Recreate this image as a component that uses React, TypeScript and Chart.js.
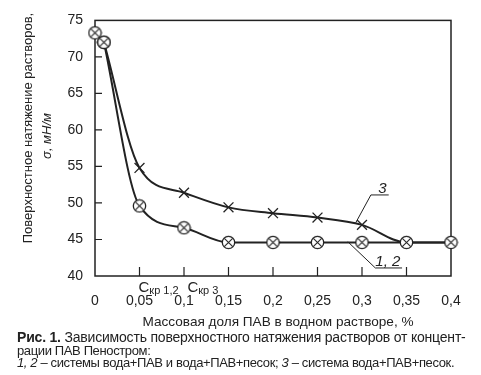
import React, { useEffect, useRef } from "react";
import { Chart, registerables } from "chart.js";

Chart.register(...registerables);

const X_VALUES = [0, 0.01, 0.05, 0.1, 0.15, 0.2, 0.25, 0.3, 0.35, 0.4];
const SERIES_12 = [73.3, 72.0, 49.6, 46.6, 44.6, 44.6, 44.6, 44.6, 44.6, 44.6];
const SERIES_3 = [73.3, 72.0, 54.8, 51.4, 49.4, 48.6, 48.0, 47.0, 44.6, 44.6];
const SERIES_3_MARKED = [false, false, true, true, true, true, true, true, false, false];
// the first segment (0 → 0,01) is common to every curve
const COMMON_POINTS = 2;

const X_MIN = 0;
const X_MAX = 0.4;
const X_STEP = 0.05;
const Y_MIN = 40;
const Y_MAX = 75;
const Y_STEP = 5;

const Y_TITLE_1 = "Поверхностное натяжение растворов,";
const Y_TITLE_2 = "σ, мН/м";
const X_TITLE = "Массовая доля ПАВ в водном растворе, %";
const CRIT_LABELS = [
  { main: "C", sub: "кр 1,2", at: 0.05 },
  { main: "C", sub: "кр 3", at: 0.105 },
];
const CURVE_LABELS = [
  { text: "3", tx: 0.323, ty: 51.9, ux0: 0.31, ux1: 0.33, uy: 51.1, lx: 0.293, ly: 47.3 },
  { text: "1, 2", tx: 0.329, ty: 41.9, ux0: 0.315, ux1: 0.345, uy: 41.1, lx: 0.284, ly: 44.7 },
];

const FONT = '"Liberation Sans", Arial, sans-serif';
const INK = "#222";

function makeCircleX(): HTMLCanvasElement {
  const c = document.createElement("canvas");
  c.width = 15;
  c.height = 15;
  const g = c.getContext("2d")!;
  const r = 6.2;
  g.beginPath();
  g.arc(7.5, 7.5, r, 0, Math.PI * 2);
  g.fillStyle = "#fff";
  g.fill();
  g.lineWidth = 1.3;
  g.strokeStyle = INK;
  g.stroke();
  const d = r * 0.68;
  g.beginPath();
  g.moveTo(7.5 - d, 7.5 - d);
  g.lineTo(7.5 + d, 7.5 + d);
  g.moveTo(7.5 + d, 7.5 - d);
  g.lineTo(7.5 - d, 7.5 + d);
  g.lineWidth = 1.1;
  g.stroke();
  return c;
}

const framePlugin = {
  id: "frame",
  beforeDatasetsDraw(chart: any) {
    const { ctx, chartArea, scales } = chart;
    const { left, right, top, bottom } = chartArea;
    ctx.save();
    ctx.strokeStyle = INK;
    ctx.lineWidth = 1.5;
    ctx.strokeRect(left, top, right - left, bottom - top);
    ctx.lineWidth = 1.2;
    ctx.beginPath();
    scales.x.ticks.forEach((t: any) => {
      const px = scales.x.getPixelForValue(t.value);
      if (px <= left + 1 || px >= right - 1) return;
      ctx.moveTo(px, bottom);
      ctx.lineTo(px, bottom - 9);
    });
    scales.y.ticks.forEach((t: any) => {
      const py = scales.y.getPixelForValue(t.value);
      if (py <= top + 1 || py >= bottom - 1) return;
      ctx.moveTo(left, py);
      ctx.lineTo(left + 7, py);
    });
    ctx.stroke();
    ctx.restore();
  },
  afterDraw(chart: any) {
    const { ctx, chartArea, scales } = chart;
    const { x, y } = scales;
    ctx.save();
    ctx.fillStyle = INK;
    ctx.strokeStyle = INK;
    ctx.save();
    ctx.translate(28, 128);
    ctx.rotate(-Math.PI / 2);
    ctx.textAlign = "center";
    ctx.textBaseline = "middle";
    ctx.font = `13px ${FONT}`;
    ctx.fillText(Y_TITLE_1, 0, 0);
    ctx.restore();
    ctx.save();
    ctx.translate(47, 136);
    ctx.rotate(-Math.PI / 2);
    ctx.textAlign = "center";
    ctx.textBaseline = "middle";
    ctx.font = `italic 13px ${FONT}`;
    ctx.fillText(Y_TITLE_2, 0, 0);
    ctx.restore();
    ctx.textAlign = "center";
    ctx.textBaseline = "middle";
    ctx.font = `13.6px ${FONT}`;
    ctx.fillText(X_TITLE, 278, 322);
    ctx.textAlign = "left";
    ctx.textBaseline = "alphabetic";
    CRIT_LABELS.forEach((l) => {
      const px = x.getPixelForValue(l.at) - 1;
      ctx.font = `15px ${FONT}`;
      ctx.fillText(l.main, px, 292);
      const w = ctx.measureText(l.main).width;
      ctx.font = `11px ${FONT}`;
      ctx.fillText(l.sub, px + w, 294);
    });
    CURVE_LABELS.forEach((l) => {
      ctx.font = `italic 15px ${FONT}`;
      ctx.textAlign = "center";
      ctx.textBaseline = "middle";
      ctx.fillText(l.text, x.getPixelForValue(l.tx), y.getPixelForValue(l.ty));
      ctx.lineWidth = 1;
      ctx.beginPath();
      ctx.moveTo(x.getPixelForValue(l.ux1), y.getPixelForValue(l.uy));
      ctx.lineTo(x.getPixelForValue(l.ux0), y.getPixelForValue(l.uy));
      ctx.lineTo(x.getPixelForValue(l.lx), y.getPixelForValue(l.ly));
      ctx.stroke();
    });
    ctx.restore();
  },
};

export default function App() {
  const ref = useRef<HTMLCanvasElement>(null);
  useEffect(() => {
    const circleX = makeCircleX();
    const pts = (ys: number[], from: number, to: number) =>
      X_VALUES.slice(from, to).map((v, i) => ({ x: v, y: ys[from + i] }));
    const chart = new Chart(ref.current!, {
      type: "line",
      data: {
        datasets: [
          {
            label: "common",
            data: pts(SERIES_12, 0, COMMON_POINTS),
            borderColor: INK,
            borderWidth: 2,
            tension: 0,
            pointStyle: circleX as any,
            pointRadius: 7,
            clip: false,
            order: 0,
          },
          {
            label: "1, 2",
            data: pts(SERIES_12, COMMON_POINTS - 1, X_VALUES.length),
            borderColor: INK,
            borderWidth: 2,
            cubicInterpolationMode: "monotone",
            pointStyle: circleX as any,
            pointRadius: 7,
            clip: false,
            order: 1,
          },
          {
            label: "3",
            data: pts(SERIES_3, COMMON_POINTS - 1, X_VALUES.length),
            borderColor: INK,
            borderWidth: 2,
            cubicInterpolationMode: "monotone",
            pointStyle: "crossRot",
            pointRadius: SERIES_3_MARKED.slice(COMMON_POINTS - 1).map((m) => (m ? 7 : 0)),
            pointBorderColor: INK,
            pointBorderWidth: 1.3,
            clip: false,
            order: 2,
          },
        ],
      },
      options: {
        animation: false,
        responsive: false,
        events: [],
        layout: { padding: { left: 0, right: 30, top: 12, bottom: 0 } },
        plugins: { legend: { display: false }, tooltip: { enabled: false } },
        scales: {
          x: {
            type: "linear",
            min: X_MIN,
            max: X_MAX,
            grid: { display: false, drawTicks: false },
            border: { display: false },
            ticks: {
              stepSize: X_STEP,
              padding: 17,
              color: INK,
              font: { family: FONT, size: 14 },
              maxRotation: 0,
              callback: (v: any) => Number(Number(v).toFixed(2)).toString().replace(".", ","),
            },
            afterFit: (s: any) => {
              s.height = 330 - 276;
            },
          },
          y: {
            min: Y_MIN,
            max: Y_MAX,
            grid: { display: false, drawTicks: false },
            border: { display: false },
            ticks: {
              stepSize: Y_STEP,
              padding: 12,
              color: INK,
              font: { family: FONT, size: 14 },
            },
            afterFit: (s: any) => {
              s.width = 95;
            },
          },
        },
      },
      plugins: [framePlugin],
    });
    return () => chart.destroy();
  }, []);

  const cap: React.CSSProperties = {
    position: "absolute",
    left: 17,
    whiteSpace: "nowrap",
    fontFamily: FONT,
    fontSize: 13,
    lineHeight: "14px",
    color: INK,
    letterSpacing: "-0.37px",
  };

  return (
    <div style={{ position: "absolute", left: 0, top: 0, width: 481, height: 375, background: "#fff", overflow: "hidden" }}>
      <canvas ref={ref} width={481} height={330} style={{ position: "absolute", left: 0, top: 0 }} />
      <div style={{ ...cap, top: 330, fontSize: 14, letterSpacing: "-0.2px", lineHeight: "15px" }}>
        <b>Рис. 1.</b> Зависимость поверхностного натяжения растворов от концент-
      </div>
      <div style={{ ...cap, top: 344 }}>рации ПАВ Пеностром:</div>
      <div style={{ ...cap, top: 356 }}>
        <i>1, 2</i> – системы вода+ПАВ и вода+ПАВ+песок; <i>3</i> – система вода+ПАВ+песок.
      </div>
    </div>
  );
}
